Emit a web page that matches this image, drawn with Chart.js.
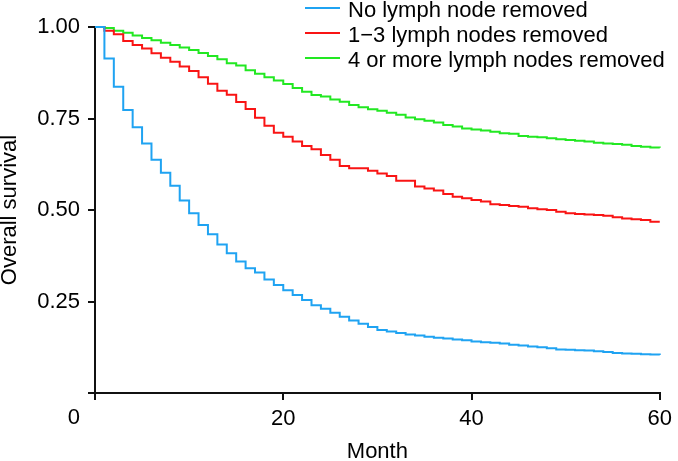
<!DOCTYPE html>
<html>
<head>
<meta charset="utf-8">
<script src="https://cdn.jsdelivr.net/npm/chart.js@4.4.1/dist/chart.umd.min.js"></script>
<style>
  html, body { margin: 0; padding: 0; background: #fff; }
  #wrap { position: relative; width: 678px; height: 461px; }
  #legend { position: absolute; left: 0; top: 0; font-family: "Liberation Sans", Arial, sans-serif; font-size: 22px; color: #000; }
  .row { position: absolute; left: 305px; height: 25px; line-height: 25px; white-space: nowrap; }
  .row .ln { position: absolute; left: 0; top: 10px; width: 35px; height: 2px; }
  .row .tx { position: absolute; left: 43px; top: 0; }
</style>
</head>
<body>
<div id="wrap">
  <canvas id="km" width="678" height="461"></canvas>
  <div id="legend"></div>
</div>
<script>
// survival, one value per month
const months = [];
for (let m = 0; m <= 60; m++) months.push(m);

const seriesLabels = ['No lymph node removed', '1\u22123 lymph nodes removed', '4 or more lymph nodes removed'];
const seriesColors = ['#1FA3F2', '#F91414', '#22E822'];

const noNode = [1.000, .914, .837, .773, .726, .682, .637, .602, .566, .526,
  .491, .459, .434, .406, .382, .359, .341, .329, .310, .295,
  .281, .268, .254, .240, .230, .219, .208, .198, .189, .180,
  .172, .168, .164, .160, .157, .154, .151, .149, .146, .144,
  .141, .139, .137, .135, .132, .130, .127, .125, .122, .119,
  .118, .117, .116, .114, .112, .109, .108, .107, .106, .105,
  .104];

const oneToThree = [1.000, .990, .980, .962, .951, .941, .928, .916, .905, .892,
  .880, .863, .845, .826, .815, .795, .776, .752, .730, .711,
  .700, .687, .675, .666, .650, .637, .620, .614, .614, .607,
  .600, .593, .580, .580, .564, .559, .553, .544, .536, .532,
  .527, .523, .516, .514, .511, .509, .505, .502, .500, .495,
  .491, .489, .488, .486, .484, .480, .477, .475, .473, .468,
  .468];

const fourPlus = [1.000, .997, .990, .984, .977, .970, .964, .957, .951, .944,
  .937, .929, .921, .912, .901, .895, .882, .872, .863, .854,
  .844, .833, .823, .814, .810, .802, .796, .787, .781, .775,
  .771, .766, .760, .753, .748, .744, .739, .732, .728, .723,
  .720, .717, .714, .710, .708, .702, .700, .699, .696, .693,
  .691, .689, .687, .684, .682, .680, .678, .675, .673, .671,
  .670];

const xTicks = [0, 20, 40, 60];
const yTicks = [0, 0.25, 0.5, 0.75, 1];

const allSeries = [noNode, oneToThree, fourPlus];

Chart.defaults.font.family = '"Liberation Sans", Arial, sans-serif';
Chart.defaults.font.size = 22;
Chart.defaults.color = '#000';

const axisColor = '#111';

// the lone "0" sits left of the origin, like the original
const zeroLabel = {
  id: 'zeroLabel',
  afterDraw(chart) {
    const ctx = chart.ctx;
    const xs = chart.scales.x;
    ctx.save();
    ctx.font = '22px "Liberation Sans", Arial, sans-serif';
    ctx.fillStyle = '#000';
    ctx.textAlign = 'right';
    ctx.textBaseline = 'middle';
    ctx.fillText('0', xs.getPixelForValue(0) - 15, 418);
    ctx.restore();
  }
};

new Chart(document.getElementById('km'), {
  type: 'line',
  data: {
    datasets: allSeries.map((vals, i) => ({
      label: seriesLabels[i],
      data: months.map((m, j) => ({ x: m, y: vals[j] })),
      borderColor: seriesColors[i],
      borderWidth: 2,
      pointRadius: 0,
      stepped: true,
      fill: false,
      clip: false
    }))
  },
  options: {
    responsive: false,
    animation: false,
    layout: { padding: { top: 27, right: 12, left: 0, bottom: 0 } },
    plugins: { legend: { display: false }, tooltip: { enabled: false } },
    scales: {
      x: {
        type: 'linear',
        min: 0, max: 60,
        afterFit(s) { s.height = 68; },
        afterBuildTicks(s) { s.ticks = xTicks.map(v => ({ value: v })); },
        ticks: { padding: 6, callback: v => (v === 0 ? '' : v), maxRotation: 0 },
        grid: { drawOnChartArea: false, drawTicks: true, tickLength: 7, color: axisColor, lineWidth: 2 },
        border: { display: true, color: axisColor, width: 2 },
        title: { display: true, text: 'Month', font: { size: 22, lineHeight: 1 }, padding: { top: 0, bottom: -2 } }
      },
      y: {
        min: 0, max: 1,
        afterFit(s) { s.width = 95; },
        afterBuildTicks(s) { s.ticks = yTicks.map(v => ({ value: v })); },
        ticks: { padding: 8, callback: v => (v === 0 ? '' : v.toFixed(2)) },
        grid: { drawOnChartArea: false, drawTicks: true, tickLength: 7, color: axisColor, lineWidth: 2 },
        border: { display: true, color: axisColor, width: 2 },
        title: { display: true, text: 'Overall survival', font: { size: 22, lineHeight: 1 }, padding: { top: -1.5, bottom: 0 } }
      }
    }
  },
  plugins: [zeroLabel]
});

// legend, stacked at the top right
const legend = document.getElementById('legend');
seriesLabels.forEach((lab, i) => {
  const row = document.createElement('div');
  row.className = 'row';
  row.style.top = (-3.5 + i * 25) + 'px';
  const ln = document.createElement('div');
  ln.className = 'ln';
  ln.style.background = seriesColors[i];
  const tx = document.createElement('div');
  tx.className = 'tx';
  tx.textContent = lab;
  row.appendChild(ln);
  row.appendChild(tx);
  legend.appendChild(row);
});
</script>
</body>
</html>
